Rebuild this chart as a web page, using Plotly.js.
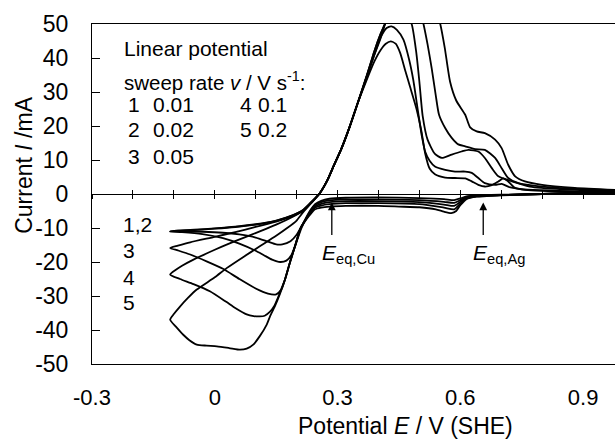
<!DOCTYPE html>
<html>
<head>
<meta charset="utf-8">
<script src="https://cdn.plot.ly/plotly-3.0.1.min.js"></script>
<style>html,body{margin:0;padding:0;background:#fff;}#chart{width:615px;height:442px;}</style>
</head>
<body>
<div id="chart"></div>
<script>
// ---- Data: potential E (V vs SHE) and current I (mA), one cycle per sweep rate ----
const sweepLabels = ["1", "2", "3", "4", "5"];
const sweepRates = ["0.01", "0.02", "0.05", "0.1", "0.2"];

const e1 = [0.978,0.9,0.8,0.7,0.64,0.615,0.6,0.585,0.56,0.5,0.4,0.32,0.28,0.26,0.245,0.235,0.225,0.212,0.2,0.185,0.165,0.15,0.13,0.1,0.06,0.02,-0.03,-0.08,-0.109,
  -0.09,-0.05,0,0.05,0.1,0.15,0.19,0.215,0.235,0.257,0.275,0.29,0.31,0.33,0.35,0.371,0.39,0.405,0.418,0.43,0.442,0.453,0.465,0.477,0.493,0.505,0.514,0.525,0.538,0.563,0.587,0.612,0.628,0.644,0.66,0.677,0.693,0.705,0.717,0.734,0.76,0.8,0.88,0.978];
const i1 = [0.3,0.2,0.0,-0.2,-0.4,-0.7,-1.3,-1.8,-1.5,-1.2,-1.0,-1.1,-1.4,-2.0,-3.0,-4.5,-6.5,-9.5,-12,-13.9,-14.8,-14.8,-14.0,-12.8,-11.9,-11.4,-11.1,-11.0,-11.0,
  -10.8,-10.5,-10.1,-9.6,-8.9,-7.8,-6.3,-4.8,-2.5,0.3,4,8.1,13.5,19.9,27,33.5,39,42.3,44.2,44.9,44.2,41.5,36.5,31.6,25,18.5,12,7.5,5.8,4.8,4.7,4.6,3.7,2.7,2.2,2.6,3.7,4.6,3.7,1.8,1.2,0.9,0.6,0.4];

const e2 = [0.978,0.9,0.8,0.7,0.64,0.615,0.6,0.585,0.56,0.5,0.4,0.32,0.28,0.26,0.245,0.235,0.225,0.212,0.2,0.187,0.175,0.16,0.14,0.12,0.1,0.06,0.02,-0.03,-0.08,-0.109,
  -0.09,-0.05,0,0.05,0.1,0.15,0.19,0.215,0.235,0.257,0.275,0.29,0.31,0.33,0.35,0.371,0.39,0.405,0.42,0.432,0.445,0.461,0.475,0.485,0.497,0.506,0.514,0.525,0.538,0.563,0.587,0.612,0.628,0.644,0.66,0.685,0.701,0.72,0.75,0.8,0.88,0.978];
const i2 = [0.3,0.2,0.0,-0.3,-0.5,-0.9,-1.8,-2.6,-2.3,-1.8,-1.6,-1.6,-1.9,-2.4,-3.3,-4.8,-6.8,-10,-14,-18,-19.6,-20,-19.3,-18,-16.7,-14.6,-13,-11.8,-11.2,-11.0,
  -10.8,-10.6,-10.2,-9.7,-9.0,-7.9,-6.3,-4.8,-2.5,0.3,4,8.1,13.5,19.9,27,34,41,46,48.8,49.3,48.3,45.4,39.5,33.6,24,17,12.5,9.8,8.1,7.1,6.6,6.6,6.2,4.7,3.2,2.7,3.0,2.0,1.4,1.1,0.8,0.5];

const e3 = [0.978,0.9,0.8,0.7,0.64,0.615,0.6,0.585,0.56,0.5,0.4,0.32,0.28,0.26,0.245,0.235,0.225,0.21,0.197,0.184,0.172,0.162,0.15,0.13,0.1,0.06,0.02,-0.02,-0.06,-0.09,-0.109,
  -0.09,-0.06,0,0.05,0.1,0.15,0.19,0.215,0.235,0.257,0.275,0.29,0.31,0.33,0.35,0.371,0.39,0.405,0.418,0.435,0.455,0.472,0.481,0.492,0.5,0.508,0.52,0.538,0.555,0.579,0.603,0.62,0.644,0.66,0.677,0.693,0.726,0.77,0.85,0.978];
const i3 = [0.4,0.3,0.0,-0.3,-0.6,-1.1,-2.3,-3.5,-3.1,-2.4,-2.1,-2.1,-2.4,-2.9,-3.7,-5.2,-7,-10,-15,-20,-25,-28.2,-29.5,-29.3,-27.8,-25,-22,-19.8,-17.8,-16.6,-15.9,
  -15.2,-14.2,-12.6,-11.2,-9.7,-8.1,-6.5,-4.9,-2.6,0.3,4,8.1,13.5,19.9,27,34.6,42,47,50.5,53,53,51.5,50,42,33,23,16,11.8,10.6,11.6,12.5,13,12.5,10.6,7.6,5.2,3.7,2.2,1.4,0.9];

const e4 = [0.978,0.9,0.8,0.7,0.64,0.615,0.6,0.585,0.56,0.5,0.4,0.32,0.28,0.26,0.245,0.235,0.225,0.21,0.197,0.184,0.172,0.163,0.155,0.145,0.135,0.122,0.11,0.095,0.078,0.05,0.029,-0.012,-0.052,-0.085,-0.109,
  -0.095,-0.08,-0.052,0,0.029,0.07,0.11,0.15,0.192,0.215,0.235,0.257,0.275,0.29,0.31,0.33,0.35,0.371,0.39,0.405,0.416,0.44,0.47,0.495,0.51,0.52,0.53,0.54,0.548,0.563,0.579,0.595,0.612,0.636,0.66,0.685,0.701,0.717,0.742,0.8,0.88,0.978];
const i4 = [0.5,0.3,0.0,-0.3,-0.7,-1.3,-2.8,-4.5,-4.0,-3.0,-2.7,-2.7,-3.0,-3.4,-4.0,-5.4,-7,-10,-15,-20,-25,-27.8,-30.3,-33,-34.6,-35.8,-36,-35.9,-35.4,-33.5,-31.8,-28.6,-26.5,-25,-23.7,
  -22.3,-21.1,-19.3,-16.4,-14.9,-12.9,-11,-9,-6.6,-5.0,-2.7,0.3,4,8.1,13.5,19.9,27,34.6,42,47,50,57,60,57,50,44,37,29,23.3,19.4,16.5,14.6,14,13.2,13,10.6,7.6,4.7,3.2,2.2,1.5,1.0];

const e5 = [0.978,0.9,0.8,0.7,0.64,0.615,0.6,0.59,0.578,0.56,0.54,0.5,0.45,0.4,0.32,0.28,0.26,0.245,0.235,0.225,0.21,0.197,0.184,0.172,0.159,0.147,0.135,0.127,0.11,0.094,0.078,0.062,0.035,0.005,-0.02,-0.044,-0.062,-0.077,-0.095,-0.109,
  -0.1,-0.085,-0.065,-0.044,0,0.029,0.07,0.11,0.15,0.176,0.2,0.215,0.235,0.257,0.275,0.29,0.31,0.33,0.35,0.371,0.39,0.404,0.416,0.44,0.47,0.5,0.53,0.551,0.562,0.575,0.59,0.612,0.624,0.64,0.66,0.685,0.701,0.717,0.734,0.758,0.8,0.88,0.978];
const i5 = [0.6,0.4,0.0,-0.4,-0.8,-1.5,-3.3,-5.0,-5.6,-5.2,-4.5,-3.9,-3.7,-3.5,-3.5,-3.7,-4.0,-4.5,-5.8,-7.3,-10,-15,-20,-25,-29.5,-33,-36,-38.4,-41.8,-44.3,-45.5,-45.8,-45.3,-44.8,-44.6,-44.3,-43,-41.4,-39,-37,
  -35.3,-33.1,-30.5,-28.1,-24.5,-21.8,-18.5,-15.4,-12.3,-10.1,-7.8,-5.5,-2.8,0.3,4,8.1,13.5,19.9,27,34.6,41,45.4,50,60,66,66,59,50,43,33,27.5,23.3,19.6,18.4,17.9,16,13.5,8.6,5.2,3.7,2.7,1.8,1.2];

// ---- Axis ticks ----
const xTickVals = [-0.3, 0, 0.3, 0.6, 0.9];
const xTickText = ["-0.3", "0", "0.3", "0.6", "0.9"];
const yTickVals = [-50, -40, -30, -20, -10, 0, 10, 20, 30, 40, 50];
const yTickText = ["-50", "-40", "-30", "-20", "-10", "0", "10", "20", "30", "40", "50"];

// ---- Texts ----
const xTitle = "Potential <i>E</i> / V (SHE)";
const yTitle = "Current <i>I</i> /mA";
const legendHead1 = "Linear potential";
const legendHead2 = "sweep rate <i>v</i> / V s<sup>-1</sup>:";
const curveTags = ["1,2", "3", "4", "5"];
const eqLabels = ["<i>E</i><sub>eq,Cu</sub>", "<i>E</i><sub>eq,Ag</sub>"];
const eqPotentials = [0.286, 0.656];

const FONT = 'Arial, "Liberation Sans", sans-serif';
const series = [[e1,i1],[e2,i2],[e3,i3],[e4,i4],[e5,i5]];

const traces = series.map((s, k) => ({
  x: s[0], y: s[1], type: 'scatter', mode: 'lines', name: sweepLabels[k],
  line: {color: '#000', width: 1.8, shape: 'spline', smoothing: 0.6},
  showlegend: false, hoverinfo: 'skip'
}));
// empty traces to realise the zero-line tick axes
traces.push({x: [], y: [], xaxis: 'x2', yaxis: 'y', type: 'scatter', mode: 'lines', showlegend: false});
traces.push({x: [], y: [], xaxis: 'x3', yaxis: 'y', type: 'scatter', mode: 'lines', showlegend: false});

const xRange = [-0.3, 0.978];
const ann = [];
const tf = (s) => ({family: FONT, size: s, color: '#000'});
// legend block
ann.push({x: -0.226, y: 42.9, text: legendHead1, xanchor: 'left', yanchor: 'middle', showarrow: false, font: tf(21)});
ann.push({x: -0.226, y: 33.3, text: legendHead2, xanchor: 'left', yanchor: 'middle', showarrow: false, font: tf(20.5)});
const rowY = [26.3, 18.9, 11.1, 26.3, 18.9];
const numX = [-0.218, -0.218, -0.218, 0.056, 0.056];
const valX = [-0.157, -0.157, -0.157, 0.1, 0.1];
for (let k = 0; k < 5; k++) {
  ann.push({x: numX[k], y: rowY[k], text: sweepLabels[k], xanchor: 'left', yanchor: 'middle', showarrow: false, font: tf(21)});
  ann.push({x: valX[k], y: rowY[k], text: sweepRates[k], xanchor: 'left', yanchor: 'middle', showarrow: false, font: tf(21)});
}
const tagY = [-9.0, -16.6, -24.5, -32.0];
curveTags.forEach((t, k) => ann.push({x: -0.23, y: tagY[k], text: t, xanchor: 'left', yanchor: 'middle', showarrow: false, font: tf(21)}));
// equilibrium potential arrows and labels
eqPotentials.forEach((ep, k) => {
  ann.push({x: ep, y: -2.5, text: '', showarrow: true, ax: 0, ay: 34, arrowhead: 2, arrowsize: 1.2, arrowwidth: 1.3, arrowcolor: '#000', standoff: 0, startstandoff: 0});
  ann.push({x: ep - 0.03, y: -17.7, text: eqLabels[k], xanchor: 'left', yanchor: 'middle', showarrow: false, font: tf(21)});
});
// axis titles
ann.push({xref: 'paper', yref: 'paper', x: 0.599, y: -0.183, text: xTitle, xanchor: 'center', yanchor: 'middle', showarrow: false, font: tf(23)});
ann.push({xref: 'paper', yref: 'paper', x: -0.13, y: 0.583, text: yTitle, textangle: -90, xanchor: 'center', yanchor: 'middle', showarrow: false, font: tf(23)});

const layout = {
  width: 615, height: 442,
  margin: {l: 92, r: 0, t: 24, b: 78},
  paper_bgcolor: '#fff', plot_bgcolor: '#fff',
  font: {family: FONT, color: '#000'},
  xaxis: {range: xRange, showline: true, mirror: true, linecolor: '#000', linewidth: 1,
    ticks: '', tickmode: 'array', tickvals: xTickVals, ticktext: xTickText,
    showgrid: false, zeroline: false, ticklabelstandoff: 14, tickfont: {family: FONT, size: 22, color: '#000'}},
  xaxis2: {range: xRange, overlaying: 'x', anchor: 'free', position: 0.5, showline: true, linecolor: '#000', linewidth: 1,
    ticks: 'inside', ticklen: 4, tickwidth: 1, tickcolor: '#000', tick0: 0, dtick: 0.1,
    showticklabels: false, showgrid: false, zeroline: false},
  xaxis3: {range: xRange, overlaying: 'x', anchor: 'free', position: 0.5, showline: false,
    ticks: 'outside', ticklen: 4, tickwidth: 1, tickcolor: '#000', tick0: 0, dtick: 0.1,
    showticklabels: false, showgrid: false, zeroline: false},
  yaxis: {range: [-50, 50], showline: true, linecolor: '#000', linewidth: 1,
    ticks: 'inside', ticklen: 8, tickcolor: '#000', tickmode: 'array', tickvals: yTickVals, ticktext: yTickText,
    showgrid: false, zeroline: false, ticklabelstandoff: 18, tickfont: {family: FONT, size: 23, color: '#000'}},
  annotations: ann,
  showlegend: false
};

Plotly.newPlot('chart', traces, layout, {displayModeBar: false, staticPlot: true});
</script>
</body>
</html>
